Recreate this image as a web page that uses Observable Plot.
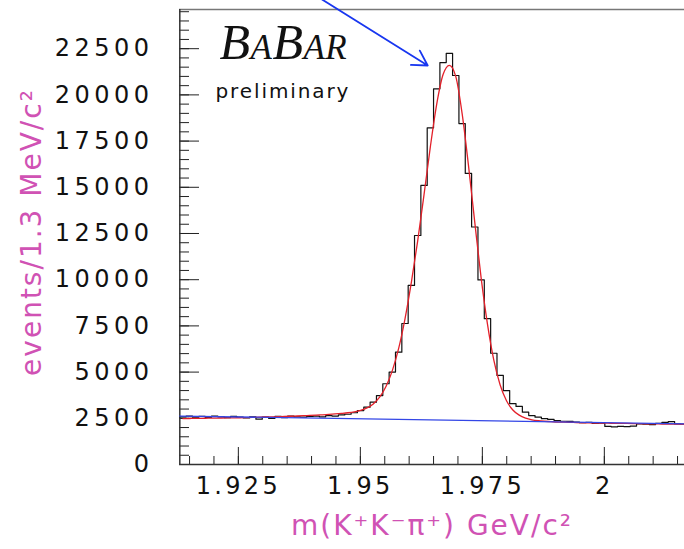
<!DOCTYPE html>
<html>
<head>
<meta charset="utf-8">
<script src="https://cdn.jsdelivr.net/npm/d3@7"></script>
<script src="https://cdn.jsdelivr.net/npm/@observablehq/plot@0.6"></script>
<style>
  html, body { margin: 0; padding: 0; background: #fff; overflow: hidden; }
  [aria-label="x-axis tick label"] text { letter-spacing: 3.3px; }
  [aria-label="y-axis tick label"] text { letter-spacing: 4.5px; }
</style>
</head>
<body>
<div id="chart"></div>
<script>
// Histogram binning (GeV/c^2)
const binStart = 1.913;
const binWidth = 0.0013;
const nBins = 80;

// Events per 1.3 MeV/c^2 bin
const counts = [
  2580, 2620, 2560, 2600, 2550, 2620, 2580, 2540, 2600, 2560,
  2520, 2580, 2450, 2560, 2500, 2600, 2540, 2620, 2580, 2560,
  2600, 2620, 2580, 2640, 2620, 2680, 2720, 2800, 2920, 3100,
  3370, 3730, 4370, 5000, 6080, 7630, 9690, 12390, 15100, 18220,
  20330, 21750, 22250, 21050, 18450, 15750, 12850, 9990, 7890, 6020,
  4820, 4000, 3290, 3140, 2830, 2650, 2560, 2480, 2440, 2380,
  2340, 2330, 2300, 2260, 2280, 2220, 2240, 2060, 2040, 2060,
  2050, 2080, 2200, 2180, 2160, 2220, 2280, 2320, 2200, 2180
];

// Fitted signal + background curve (red), value at each bin centre
const fitValues = [
  2480, 2490, 2495, 2500, 2505, 2510, 2515, 2520, 2525, 2530,
  2540, 2550, 2560, 2570, 2580, 2590, 2600, 2610, 2625, 2640,
  2655, 2670, 2690, 2710, 2735, 2765, 2800, 2850, 2930, 3060,
  3280, 3640, 4220, 5080, 6280, 7880, 9850, 12100, 14600, 17200,
  19500, 21100, 21600, 21000, 19000, 16200, 13100, 10100, 7600, 5650,
  4300, 3450, 2950, 2670, 2510, 2420, 2370, 2340, 2320, 2300,
  2290, 2280, 2270, 2260, 2250, 2245, 2240, 2235, 2230, 2225,
  2220, 2215, 2210, 2205, 2200, 2195, 2190, 2185, 2180, 2175
];

// Background line (blue)
const bkgX = [1.913, 2.017];
const bkgY = [2620, 2200];

// Axis ticks
const xMajor = [1.925, 1.95, 1.975, 2];
const yMajor = [0, 2500, 5000, 7500, 10000, 12500, 15000, 17500, 20000, 22500];
const xMinor = d3.ticks(1.913, 2.017, 20);
const yMinor = d3.range(0, 24600, 500);

// Texts
const xTitle = "m(K\u207AK\u207B\u03C0\u207A) GeV/c\u00B2";
const yTitle = "events/1.3 MeV/c\u00B2";
const logoText = "BaBar";
const prelimText = "preliminary";

// Arrow pointing at the peak
const arrowFrom = [1.9418, 25220];
const arrowTo = [1.9638, 21590];

const histPts = counts.map((c, i) => ({x: binStart + i * binWidth, y: c}));
histPts.push({x: binStart + nBins * binWidth, y: counts[nBins - 1]});
const fitPts = fitValues.map((v, i) => ({x: binStart + (i + 0.5) * binWidth, y: v}));
const bkgPts = bkgX.map((x, i) => ({x, y: bkgY[i]}));

const magenta = "#d052b4";

const chart = Plot.plot({
  width: 684,
  height: 549,
  marginLeft: 179,
  marginRight: 0,
  marginTop: 9,
  marginBottom: 85,
  x: {domain: [1.913, 2.017], range: [179.3, 686.8], label: null},
  y: {domain: [0, 24620], range: [464, 9], label: null},
  style: {fontFamily: "DejaVu Sans", background: "white", color: "#111"},
  marks: [
    // ticks (inward)
    Plot.axisX(xMinor, {tickSize: -8, fill: "none", label: null, stroke: "#222"}),
    Plot.axisX(xMajor, {tickSize: -17, fill: "none", label: null, stroke: "#222"}),
    Plot.axisY(yMinor, {tickSize: -10, fill: "none", label: null, stroke: "#222"}),
    Plot.axisY(yMajor, {tickSize: -20, fill: "none", label: null, stroke: "#222"}),
    // tick labels
    Plot.axisX(xMajor, {tickSize: 0, tickPadding: 12, label: null, fontSize: 24, fill: "#111",
      tickFormat: d => String(+d.toFixed(3))}),
    Plot.axisY(yMajor, {tickSize: 0, tickPadding: 26, label: null, fontSize: 24, fill: "#111",
      tickFormat: d => String(d)}),
    // frame
    Plot.ruleY([24620], {stroke: "#777", strokeWidth: 1.6}),
    Plot.ruleX([1.913], {stroke: "#333", strokeWidth: 1.5}),
    Plot.ruleY([0], {stroke: "#333", strokeWidth: 1.5}),
    // data
    Plot.line(histPts, {x: "x", y: "y", curve: "step-after", stroke: "#111", strokeWidth: 1.2}),
    Plot.line(fitPts, {x: "x", y: "y", curve: "monotone-x", stroke: "#e3202a", strokeWidth: 1.3}),
    Plot.line(bkgPts, {x: "x", y: "y", stroke: "#3346e6", strokeWidth: 1.3}),
    // arrow
    Plot.arrow([{x1: arrowFrom[0], y1: arrowFrom[1], x2: arrowTo[0], y2: arrowTo[1]}],
      {x1: "x1", y1: "y1", x2: "x2", y2: "y2", stroke: "#1836f0", strokeWidth: 1.8, headLength: 14, clip: false}),
    // logo + preliminary
    Plot.text([logoText], {text: d => d, frameAnchor: "top-left", dx: 40, dy: 49, lineAnchor: "bottom",
      textAnchor: "start", fontFamily: "Liberation Serif", fontStyle: "italic", fontVariant: "small-caps",
      fontSize: 50, fill: "#111"}),
    Plot.text([prelimText], {text: d => d, frameAnchor: "top-left", dx: 36, dy: 88, lineAnchor: "bottom",
      textAnchor: "start", fontSize: 20, fill: "#111"}),
    // axis titles
    Plot.text([xTitle], {text: d => d, frameAnchor: "bottom", dy: 62, lineAnchor: "middle", textAnchor: "middle",
      fontSize: 28, fill: magenta}),
    Plot.text([yTitle], {text: d => d, frameAnchor: "left", dx: -147, dy: -5, rotate: -90,
      lineAnchor: "middle", textAnchor: "middle",
      fontSize: 28, fill: magenta})
  ]
});
// letter spacing for the wide-looking texts
const spacing = new Map([[xTitle, "2px"], [yTitle, "2px"], [prelimText, "1.9px"], [logoText, "0.5px"]]);
d3.select(chart).selectAll("text").each(function () {
  const s = spacing.get(this.textContent);
  if (s) this.style.letterSpacing = s;
});
document.getElementById("chart").appendChild(chart);
</script>
</body>
</html>
